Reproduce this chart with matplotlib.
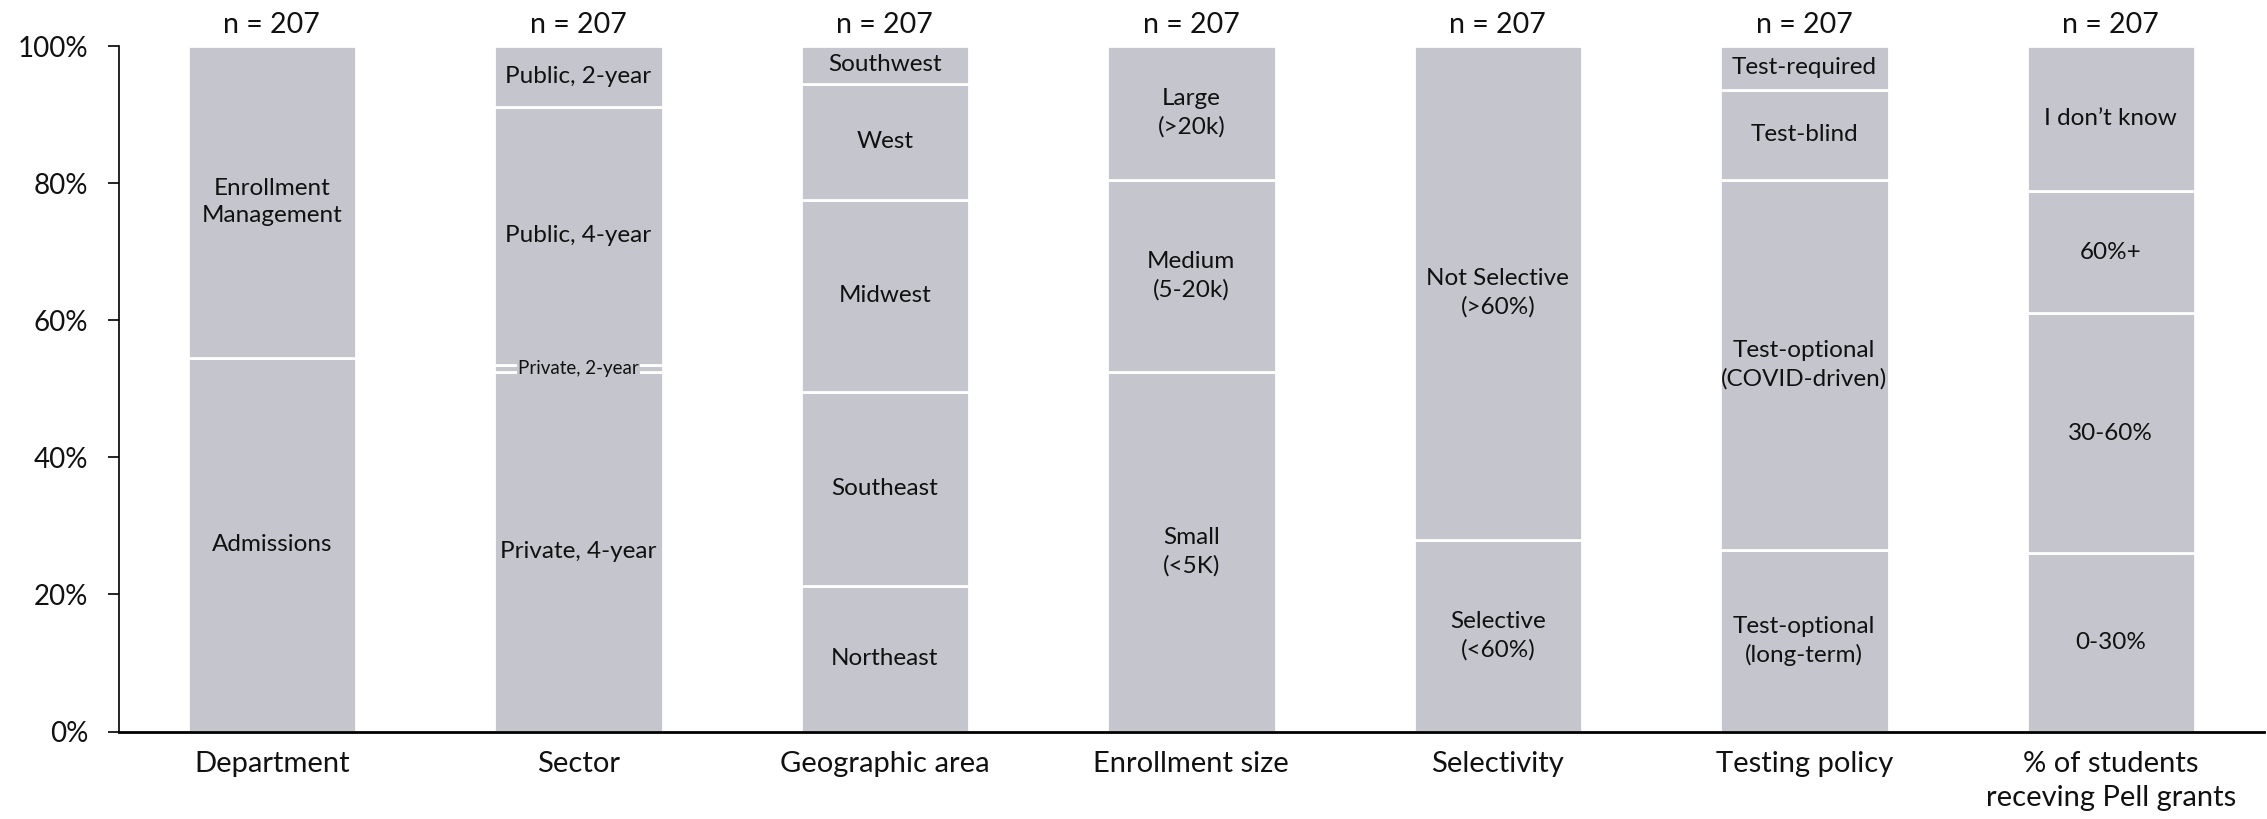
import matplotlib
matplotlib.use("Agg")
import matplotlib.pyplot as plt

# ---- data (percent of respondents, n = 207 per bar) ----
categories = ["Department", "Sector", "Geographic area", "Enrollment size",
              "Selectivity", "Testing policy", "% of students\nreceving Pell grants"]
n_values = [207, 207, 207, 207, 207, 207, 207]

dept_labels = ["Admissions", "Enrollment\nManagement"]
dept_values = [54.5, 45.5]

sector_labels = ["Private, 4-year", "Private, 2-year", "Public, 4-year", "Public, 2-year"]
sector_values = [52.4, 1.1, 37.6, 8.9]

geo_labels = ["Northeast", "Southeast", "Midwest", "West", "Southwest"]
geo_values = [21.2, 28.4, 28.0, 16.9, 5.5]

size_labels = ["Small\n(<5K)", "Medium\n(5-20k)", "Large\n(>20k)"]
size_values = [52.4, 28.1, 19.5]

select_labels = ["Selective\n(<60%)", "Not Selective\n(>60%)"]
select_values = [27.9, 72.1]

test_labels = ["Test-optional\n(long-term)", "Test-optional\n(COVID-driven)", "Test-blind", "Test-required"]
test_values = [26.5, 54.0, 13.1, 6.4]

pell_labels = ["0-30%", "30-60%", "60%+", "I don\u2019t know"]
pell_values = [26.1, 34.9, 17.9, 21.1]

yticks = [0, 20, 40, 60, 80, 100]

groups = [(dept_labels, dept_values), (sector_labels, sector_values),
          (geo_labels, geo_values), (size_labels, size_values),
          (select_labels, select_values), (test_labels, test_values),
          (pell_labels, pell_values)]

# ---- style ----
plt.rcParams['font.family'] = ['Lato', 'DejaVu Sans']
bar_color = '#C5C5CD'
text_color = '#111111'

fig = plt.figure(figsize=(22.67, 8.19), dpi=100)
ax = fig.add_axes([0.0523, 0.1067, 0.9464, 0.8371])

bar_width = 0.55
for i, (labels, values) in enumerate(groups):
    bottom = 0.0
    for lab, val in zip(labels, values):
        ax.bar(i, val, bottom=bottom, width=bar_width, color=bar_color,
               edgecolor='white', linewidth=2.0, zorder=1)
        center = bottom + val / 2
        if val < 3:
            ax.text(i, center, lab, ha='center', va='center', fontsize=13.5,
                    color=text_color, zorder=3,
                    bbox=dict(facecolor=bar_color, edgecolor='none', pad=1.0))
        else:
            ax.text(i, center, lab, ha='center', va='center', fontsize=17.5,
                    color=text_color, linespacing=1.4, zorder=3)
        bottom += val
    ax.annotate(f"n = {n_values[i]}", xy=(i, 100), xytext=(0, 6),
                textcoords='offset points', ha='center', va='bottom',
                fontsize=20.5, color=text_color, annotation_clip=False)

ax.set_xlim(-0.5, len(categories) - 0.5)
ax.set_ylim(0, 100)
ax.set_yticks(yticks)
ax.set_yticklabels([f"{t}%" for t in yticks], fontsize=20, color=text_color)
ax.set_xticks(range(len(categories)))
ax.set_xticklabels(categories, fontsize=21, color=text_color, linespacing=1.38)
ax.tick_params(axis='x', length=0, pad=14)
ax.tick_params(axis='y', length=8, width=1.2, pad=14, direction='out')

for s in ['top', 'right']:
    ax.spines[s].set_visible(False)
ax.spines['left'].set_linewidth(1.2)
ax.spines['bottom'].set_linewidth(2.0)
ax.spines['left'].set_zorder(2.5)
ax.spines['bottom'].set_zorder(2.5)

fig.savefig("out.png", dpi=100)
